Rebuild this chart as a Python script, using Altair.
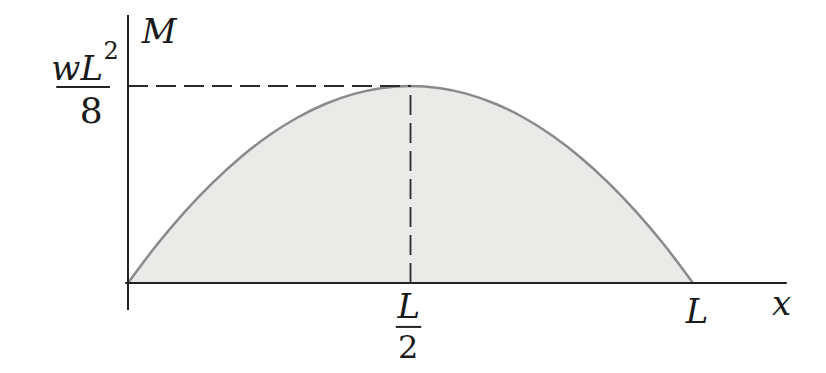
import altair as alt
import pandas as pd

# Bending-moment diagram of a simply supported beam under uniform load
# positions along the beam (fraction of L) and M as a fraction of wL^2/8
pos = [0, 0.05, 0.1, 0.15, 0.2, 0.25, 0.3, 0.35, 0.4, 0.45, 0.5,
       0.55, 0.6, 0.65, 0.7, 0.75, 0.8, 0.85, 0.9, 0.95, 1.0]
moment = [0, 0.19, 0.36, 0.51, 0.64, 0.75, 0.84, 0.91, 0.96, 0.99, 1.0,
          0.99, 0.96, 0.91, 0.84, 0.75, 0.64, 0.51, 0.36, 0.19, 0]

# axis lines (data units)
axis_x = [0, -0.005]
axis_x2 = [0, 1.166]
axis_y = [-0.137, 0]
axis_y2 = [1.36, 0]

# dashed guide lines
guide_x = [0, 0.5]
guide_x2 = [0.5, 0.5]
guide_y = [1, 0]
guide_y2 = [1, 1]

# fraction bars
bar_x = [-0.127, 0.474]
bar_x2 = [-0.032, 0.519]
bar_y = [0.995, -0.223]

# italic labels
it_text = ["M", "wL", "L", "L", "x"]
it_x = [0.055, -0.090, 0.497, 1.007, 1.157]
it_y = [1.218, 1.030, -0.178, -0.203, -0.163]

# upright labels (digits)
up_text = ["2", "8", "2"]
up_x = [-0.030, -0.065, 0.496]
up_y = [1.135, 0.812, -0.381]
up_size = [24, 36, 32]

FONT = "DejaVu Serif"

W, H = 808, 357
x0 = -120 / 565
x1 = x0 + W / 565
y1 = 275 / 197
y0 = y1 - H / 197

xs = alt.Scale(domain=[x0, x1], nice=False, zero=False)
ys = alt.Scale(domain=[y0, y1], nice=False, zero=False)

curve = pd.DataFrame({"x": pos, "m": moment})

area = alt.Chart(curve).mark_area(color="#eaeae8", interpolate="monotone").encode(
    x=alt.X("x:Q", scale=xs, axis=None),
    y=alt.Y("m:Q", scale=ys, axis=None),
)
line = alt.Chart(curve).mark_line(color="#8a8a8a", strokeWidth=2.5, interpolate="monotone").encode(
    x=alt.X("x:Q", scale=xs, axis=None),
    y=alt.Y("m:Q", scale=ys, axis=None),
)

axes_df = pd.DataFrame({"x": axis_x, "x2": axis_x2, "y": axis_y, "y2": axis_y2})
axes = alt.Chart(axes_df).mark_rule(color="#222222", strokeWidth=2).encode(
    x=alt.X("x:Q", scale=xs, axis=None), x2="x2:Q",
    y=alt.Y("y:Q", scale=ys, axis=None), y2="y2:Q",
)

guide_df = pd.DataFrame({"x": guide_x, "x2": guide_x2, "y": guide_y, "y2": guide_y2})
guides = alt.Chart(guide_df).mark_rule(color="#2a2a2a", strokeWidth=1.8, strokeDash=[20, 8]).encode(
    x=alt.X("x:Q", scale=xs, axis=None), x2="x2:Q",
    y=alt.Y("y:Q", scale=ys, axis=None), y2="y2:Q",
)

bars_df = pd.DataFrame({"x": bar_x, "x2": bar_x2, "y": bar_y})
bars = alt.Chart(bars_df).mark_rule(color="#222222", strokeWidth=2).encode(
    x=alt.X("x:Q", scale=xs, axis=None), x2="x2:Q",
    y=alt.Y("y:Q", scale=ys, axis=None),
)

it_df = pd.DataFrame({"t": it_text, "x": it_x, "y": it_y})
it_labels = alt.Chart(it_df).mark_text(
    font=FONT, fontStyle="italic", fontSize=34,
    baseline="alphabetic", align="center", color="#1a1a1a",
).encode(
    x=alt.X("x:Q", scale=xs, axis=None),
    y=alt.Y("y:Q", scale=ys, axis=None),
    text="t:N",
)

up_df = pd.DataFrame({"t": up_text, "x": up_x, "y": up_y, "s": up_size})
up_labels = alt.Chart(up_df).mark_text(
    font=FONT, baseline="alphabetic", align="center", color="#1a1a1a",
).encode(
    x=alt.X("x:Q", scale=xs, axis=None),
    y=alt.Y("y:Q", scale=ys, axis=None),
    text="t:N",
    size=alt.Size("s:Q", scale=None, legend=None),
)

chart = alt.layer(area, line, guides, axes, bars, it_labels, up_labels).properties(
    width=W, height=H, padding=0,
    autosize=alt.AutoSizeParams(type="none"),
    background="white",
).configure_view(stroke=None)

chart.save("out.html", embed_options={"renderer": "svg", "actions": False})
